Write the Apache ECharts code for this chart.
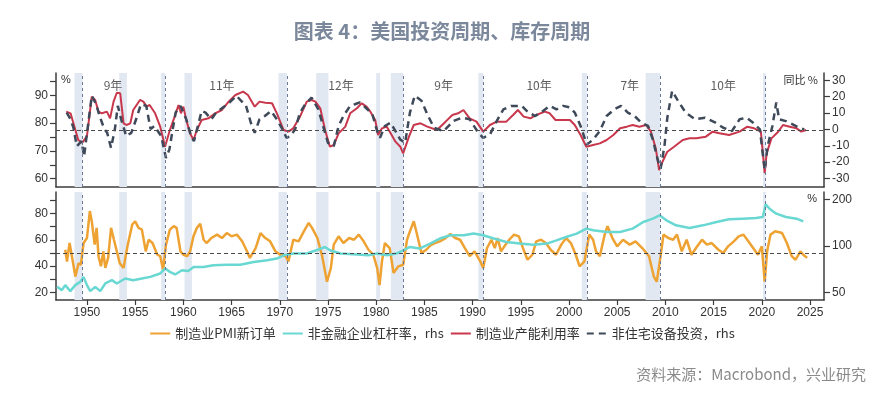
<!DOCTYPE html>
<html><head><meta charset="utf-8">
<script src="https://cdn.jsdelivr.net/npm/echarts@6/dist/echarts.min.js"></script>
<style>html,body{margin:0;padding:0;background:#fff}#c{width:884px;height:398px}</style>
</head><body><div id="c"></div>
<script>
// ---------- data ----------
const xTickYears = [1950,1955,1960,1965,1970,1975,1980,1985,1990,1995,2000,2005,2010,2015,2020,2025];

// 制造业产能利用率 (lhs, top)
const cuYears = [1947.85,1948.3,1948.6,1949.1,1949.5,1950.0,1950.5,1950.85,1951.2,1951.55,1952.07,1952.4,1952.76,1953.1,1953.45,1953.8,1954.1,1954.5,1954.8,1955.5,1955.85,1956.2,1956.5,1957.07,1957.6,1958.1,1958.6,1959.1,1959.5,1959.75,1960.0,1960.3,1960.7,1961.05,1961.4,1961.9,1962.6,1963.3,1964.0,1964.7,1965.4,1966.2,1966.7,1967.4,1967.9,1968.5,1969.2,1969.7,1970.4,1970.9,1971.4,1972.1,
 1972.8,1973.3,1973.7,1974.2,1974.7,1975.2,1975.6,1976.1,1976.8,1977.3,1978.0,1978.5,1979.0,1979.4,1979.9,1980.2,1980.6,1981.1,1981.5,1982.0,1982.5,1982.8,1983.4,1983.9,1984.6,1985.3,
 1986.3,1987.2,1987.9,1988.5,1989.05,1989.7,1990.4,1991.1,1991.8,1992.5,1993.5,1994.2,1994.7,1995.3,1996.0,1996.6,1997.5,1998.0,1998.6,1999.4,2000.1,2000.6,2001.2,2001.8,2002.5,2003.2,2003.9,2004.6,2005.3,2006.0,2006.6,2007.3,2008.0,2008.5,2009.0,2009.35,2009.7,2010.2,2010.9,2011.8,2012.5,2013.2,2014.2,2014.9,2015.6,2016.6,2017.7,2018.5,2019.2,2019.9,2020.3,2020.5,2021.0,2021.7,2022.2,2022.9,2023.6,2024.1,2024.6];
const cuValues = [84.1,83.5,79.9,73.9,72.9,75.3,89.5,88.3,84.1,83.5,84.1,81.7,87.7,90.9,90.7,79.9,79.3,79.9,84.7,88.3,87.7,85.9,86.5,83.5,78.7,71.5,77.5,82.3,86.5,83.5,85.9,81.1,76.3,73.9,77.5,81.1,81.7,83.5,84.7,87.7,90.1,91.3,90.1,85.9,87.7,87.3,87.1,83.5,77.5,76.9,78.1,82.3,
 87.7,88.3,87.7,85.3,77.5,71.5,72.1,76.3,78.7,83.5,85.3,87.1,85.9,84.1,81.1,75.7,78.1,78.7,76.3,73.3,71.5,69.1,75.1,79.3,79.9,78.7,
 77.5,80.5,82.9,83.5,84.7,81.7,80.5,76.9,79.3,80.5,80.5,82.9,84.7,82.3,81.7,82.9,84.1,83.5,81.1,81.1,81.1,79.3,75.7,71.5,72.1,72.7,73.9,75.7,78.1,78.7,79.3,78.7,79.3,76.9,70.9,63.1,66.1,69.7,71.5,73.9,74.5,74.5,75.1,76.9,76.3,75.7,76.9,78.7,78.1,76.9,62.0,69.1,74.5,76.9,79.3,78.7,78.1,76.9,77.5];

// 非住宅设备投资 同比 (rhs, top)
const invYears = [1947.9,1948.3,1948.6,1948.95,1949.45,1949.7,1950.1,1950.5,1950.95,1951.3,1951.8,1952.1,1952.5,1952.9,1953.2,1953.55,1954.07,1954.6,1955.1,1955.6,1956.15,1956.6,1957.0,1957.7,1958.2,1958.55,1958.9,1959.2,1959.7,1960.3,1960.8,1961.1,1961.9,1962.3,1962.9,1963.4,1964.1,1964.8,1965.5,1966.0,1966.5,1967.0,1967.4,1967.9,1968.45,1969.1,1969.7,1970.2,1970.7,1971.1,1971.6,1972.1,
 1972.6,1973.3,1974.0,1974.5,1975.0,1975.6,1976.1,1976.6,1977.3,1977.8,1978.3,1978.9,1979.6,1980.1,1980.4,1980.9,1981.5,1982.0,1982.5,1983.0,1983.5,1984.0,1984.7,1985.3,
 1986.0,1987.0,1988.0,1988.9,1989.7,1990.6,1991.1,1991.8,1992.5,1993.2,1994.0,1995.1,1995.8,1996.5,1997.3,1998.0,1998.7,1999.4,2000.1,2000.6,2001.2,2001.85,2002.5,2003.2,2003.9,2004.7,2005.4,2006.1,2006.8,2007.5,2008.2,2008.7,2009.2,2009.5,2009.9,2010.2,2010.7,2011.2,2012.1,2013.1,2014.1,2015.2,2016.0,2016.9,2017.7,2018.4,2019.1,2019.8,2020.3,2020.6,2021.1,2021.5,2021.8,2022.5,2023.2,2023.9,2024.4];
const invValues = [10.3,6.2,1.0,-10.3,-7.2,-16.5,2.1,20.6,15.4,8.4,0.2,-2.1,-11.3,0.2,14.4,6.2,-4.1,-2.1,6.2,15.4,14.4,0.2,2.1,-4.1,-17.5,-12.3,0.2,10.3,14.4,6.2,-4.1,-7.2,11.3,10.3,6.2,10.3,13.4,16.5,20.6,17.5,14.4,4.1,-2.1,6.2,8.2,11.3,6.2,1.0,-5.1,-4.1,0.2,10.3,
 15,19.5,12.3,2.1,-8.2,-10.3,2.1,8.2,14.4,15.4,16.5,13.4,9.3,-1.0,-5.1,2.1,4.1,-1.0,-6.2,-8.2,10.3,20.6,17.5,9.3,
 1.0,-1.0,5.1,7.2,6.2,-2.1,-5.1,-3.1,5.1,12.3,14.4,14.4,10.3,8.2,11.3,14.4,12.3,14.4,13.4,10.3,2.1,-9.3,-6.2,-1.0,8.2,12.3,14.4,10.3,8.2,4.1,2.1,-6.2,-18.5,-24,-10.3,7.2,23.6,18.5,10.3,6.2,7.2,4.1,1.0,-1.0,6.2,7.2,4.1,0.0,-25,-10.3,2.1,16.5,6.2,5.1,3.1,1.0,0.0];

// 制造业PMI新订单 (lhs, bottom)
const pmiYears = [1947.75,1947.93,1948.2,1948.44,1948.8,1949.13,1949.37,1949.65,1950.0,1950.3,1950.5,1950.8,1951.0,1951.2,1951.45,1951.7,1951.9,1952.2,1952.5,1952.8,1953.1,1953.4,1953.8,1954.2,1954.7,1955.0,1955.35,1955.7,1956.1,1956.4,1956.8,1957.3,1957.6,1957.9,1958.2,1958.6,1959.0,1959.3,1959.7,1960.0,1960.4,1960.7,1961.05,1961.4,1961.75,1962.1,1962.4,1962.9,1963.5,1964.0,1964.5,1965.0,1965.55,1966.1,1966.6,1966.9,1967.5,1968.0,1968.5,1969.0,1969.55,1970.05,1970.6,1970.9,1971.4,1971.95,1972.5,1973.0,1973.35,1973.9,1974.4,1974.9,1975.3,1975.6,1976.1,1976.6,1977.2,1977.7,1978.2,1978.7,1979.2,1979.7,1980.1,1980.35,1980.6,1980.9,1981.4,1981.8,1982.3,1982.8,1983.2,1983.5,1983.9,1984.2,1984.7,1985.2,
 1985.7,1986.1,1986.6,1987.2,1987.7,1988.2,1988.7,1989.2,1989.7,1990.2,1990.8,1991.1,1991.5,1991.95,1992.3,1992.6,1992.95,1993.3,1993.8,1994.3,1994.8,1995.35,1995.7,1996.2,1996.6,1997.1,1997.6,1998.1,1998.65,1999.2,1999.7,2000.2,2000.7,2001.1,2001.6,2002.1,2002.5,2002.8,2003.2,2003.7,2004.0,2004.5,2005.0,2005.6,2006.3,2006.9,2007.6,2008.3,2008.8,2009.1,2009.5,2009.8,2010.3,2010.8,2011.2,2011.7,2012.2,2012.7,2013.3,2013.8,2014.3,2014.8,2015.5,2016.0,2016.5,2017.1,2017.6,2018.1,2018.6,2019.1,2019.6,2020.0,2020.3,2020.55,2020.9,2021.4,2022.1,2022.6,2023.1,2023.5,2024.0,2024.3,2024.7];
const pmiValues = [52.4,43.5,57.5,47.5,32,42.2,41,57.5,61.3,81.8,74.1,56.3,69,47.5,39.8,51.2,38.6,46.2,69,60,51.2,42.2,38.6,55,71.6,74.1,69,67.7,51.2,60,57.5,48.6,47.5,37.3,56.3,67.7,70.4,69,51.2,48.6,47.5,51.2,62.6,69,72.1,60,57.5,61.3,63.9,61.3,65.1,62.6,63.9,58.8,51.2,46.2,53.7,65.1,61.3,58.8,51.2,48.6,47.5,43.5,60,58.8,66.4,72.8,69,61.3,47.5,28.1,38.6,56.3,62.6,57.5,61.3,60,63.9,58.8,52.4,48.6,38.6,25.5,43.5,57.5,53.7,34.8,39.8,41,60,66.4,74.1,65.1,49.9,52.4,
 56.2,57.5,58.8,61.3,64.4,61.3,60,53.7,47.5,51.2,43.5,38.6,53.7,60,53.7,61.3,51.2,55,60,63.9,62.6,51.2,44.8,48.6,58.8,60,57.5,52.4,48.6,56.3,61.3,57.5,48.6,39.8,43.5,63.9,60,51.2,47.5,63.9,70.3,61.3,55,60,56.3,58.8,53.7,47.5,32,28.1,47.5,63.9,61.3,60,63.9,51.2,60,48.6,55,60,56.3,57.5,52.4,49.9,55,58.8,62.6,63.9,58.8,53.7,48.6,55,28.1,51.2,63.9,66.4,65.1,57.5,47.5,44.8,51.2,48.6,46.2];

// 非金融企业杠杆率 (rhs log, bottom)
const levYears = [1946.9,1947.4,1947.75,1948.27,1948.79,1949.3,1949.65,1950.0,1950.34,1950.86,1951.38,1951.9,1952.59,1953.1,1953.97,1954.8,1955.7,1956.56,1957.6,1958.12,1958.6,1959.15,1959.85,1960.5,1961.06,1962.1,1963.1,1964.5,1965.9,1967.3,1968.7,1969.7,1970.4,1971.4,1972.8,1973.8,1974.7,1975.2,1976.3,1978.0,1979.2,1980.1,1981.1,1982.1,1982.8,1983.5,1984.5,1985.6,
 1986.6,1987.7,1989.1,1990.1,1991.1,1992.2,1993.5,1994.9,1996.3,1997.7,1998.7,1999.7,2000.8,2001.8,2002.5,2003.9,2005.3,2006.6,2007.7,2008.7,2009.4,2010.1,2011.1,2012.5,2013.9,2015.3,2016.6,2018.0,2019.4,2020.1,2020.4,2020.8,2021.5,2022.5,2023.6,2024.3];
const levValues = [54.3,51.7,55.7,50.9,55.7,58.5,63,55.7,50.9,54.3,50.9,57.1,60,57.1,61.5,60,61.5,63,66.3,71.4,67.9,65.3,69.6,68.7,73.1,73.1,75,75.5,75.5,78.8,80.8,82.9,87,89.3,89.3,93.8,98.5,93.8,89.3,88,87,89.3,87,89.3,93.8,98.5,96.2,103.6,
 111.7,117.3,117.3,120.3,117.3,111.7,106.1,103.6,102,103.6,108.8,114.4,120.3,129.6,126.4,123.2,123.2,129.6,143,150.4,158,146.7,136.1,130.8,136.1,143,148.9,150.4,151.8,154.1,186,174.6,162.1,154.1,150.4,144.5];

// recessions (shaded) and cycle troughs (dashed)
const recessionStart = [1948.71,1953.35,1957.7,1960.12,1969.87,1973.78,1980.0,1981.52,1990.6,2001.33,2007.95,2020.12];
const recessionEnd   = [1949.54,1954.15,1958.12,1960.89,1970.74,1975.05,1980.41,1982.83,1991.12,2001.85,2009.45,2020.4];
const troughYears = [1949.55,1958.07,1970.74,1982.83,1991.1,2001.85,2009.45,2020.33];
const cycleLabelYears = [1952.7,1964.0,1976.35,1987.0,1996.9,2006.3,2016.0];
const cycleLabels = ['9年','11年','12年','9年','10年','7年','10年'];

const leftTopLabels = [60,70,80,90], leftTopTicks = [60,65,70,75,80,85,90,95];
const rightTopLabels = [-30,-20,-10,0,10,20,30];
const leftBotLabels = [20,40,60,80], leftBotTicks = [20,30,40,50,60,70,80,90];
const rightBotLabels = [50,100,200];

// ---------- chart ----------
const zip = (a,b) => a.map((v,i) => [v,b[i]]);
const X_MIN = 1946.79, X_MAX = 2026.45;
const AX = '#3c3c3c';
const lab = {color:'#333', fontSize:12, fontFamily:'Liberation Sans'};
const areas = recessionStart.map((s,i) => [{xAxis:s},{xAxis:recessionEnd[i]}]);
const vlines = troughYears.map(v => ({xAxis:v}));
const vStyle = {color:'#6a7896', width:1, type:[3,3]};
const hStyle = {color:'#4a4a4a', width:1, type:[4,3]};

function yAx(grid, pos, min, max, labels, ticks, extra){
  return Object.assign({
    type:'value', gridIndex:grid, position:pos, min:min, max:max,
    axisLine:{show:true, onZero:false, lineStyle:{color:AX, width:1.5}},
    axisTick:{show:true, customValues:ticks, length:6, lineStyle:{color:AX, width:1.2}},
    axisLabel:Object.assign({customValues:labels, margin:8}, lab),
    splitLine:{show:false}
  }, extra||{});
}

const option = {
  animation:false,
  backgroundColor:'#fff',
  title:{text:'图表 4：美国投资周期、库存周期', left:'center', top:16,
    textStyle:{fontSize:20, fontWeight:'bold', color:'#7b889b', fontFamily:'Noto Sans CJK SC'}},
  grid:[
    {left:56, right:60, top:73, height:114},
    {left:56, right:60, top:192, height:108}
  ],
  xAxis:[
    {type:'value', gridIndex:0, min:X_MIN, max:X_MAX,
     axisLine:{show:true, onZero:false, lineStyle:{color:AX, width:1.5}},
     axisTick:{show:false}, axisLabel:{show:false}, splitLine:{show:false}},
    {type:'value', gridIndex:1, min:X_MIN, max:X_MAX,
     axisLine:{show:true, onZero:false, lineStyle:{color:AX, width:1.5}},
     axisTick:{show:true, customValues:xTickYears, length:5, lineStyle:{color:AX, width:1.2}},
     axisLabel:Object.assign({customValues:xTickYears, margin:7, formatter:v=>String(Math.round(v))}, lab),
     splitLine:{show:false}}
  ],
  yAxis:[
    yAx(0,'left',57,98,leftTopLabels,leftTopTicks),
    yAx(0,'right',-35.2,34.5,rightTopLabels,rightTopLabels),
    yAx(1,'left',14.2,96.3,leftBotLabels,leftBotTicks),
    yAx(1,'right',44.6,224,rightBotLabels,rightBotLabels,{type:'log', logBase:10})
  ],
  legend:{
    data:['制造业PMI新订单','非金融企业杠杆率，rhs','制造业产能利用率','非住宅设备投资，rhs'],
    left:'center', top:322, itemWidth:20, itemHeight:10, itemGap:6,
    itemStyle:{opacity:0},
    textStyle:{fontSize:13, color:'#333', fontFamily:'Noto Sans CJK SC'}
  },
  graphic:[
    {type:'text', left:61, top:74, style:{text:'%', fontSize:11, fill:'#333', fontFamily:'Liberation Sans'}},
    {type:'text', right:66, top:74, style:{text:'同比 %', fontSize:11, fill:'#333', fontFamily:'Noto Sans CJK SC'}},
    {type:'text', right:67, top:193, style:{text:'%', fontSize:11, fill:'#333', fontFamily:'Liberation Sans'}},
    {type:'text', right:18, top:367, style:{text:'资料来源：Macrobond，兴业研究', fontSize:15, fill:'#8a8a8a', fontFamily:'Noto Sans CJK SC'}}
  ],
  series:[
    {name:'制造业PMI新订单', type:'line', xAxisIndex:1, yAxisIndex:2, symbol:'none', z:3,
     data:zip(pmiYears,pmiValues), lineStyle:{color:'#EEA232', width:2.5}, itemStyle:{color:'#EEA232'},
     markArea:{silent:true, itemStyle:{color:'#e1e8f2'}, data:areas},
     markLine:{silent:true, symbol:'none', label:{show:false}, lineStyle:vStyle,
       data:vlines.concat([{yAxis:50, lineStyle:hStyle}])}},
    {name:'非金融企业杠杆率，rhs', type:'line', xAxisIndex:1, yAxisIndex:3, symbol:'none', z:4,
     data:zip(levYears,levValues), lineStyle:{color:'#6ad8d2', width:2.5}, itemStyle:{color:'#6ad8d2'}},
    {name:'制造业产能利用率', type:'line', xAxisIndex:0, yAxisIndex:0, symbol:'none', z:3,
     data:zip(cuYears,cuValues), lineStyle:{color:'#c8374c', width:2}, itemStyle:{color:'#c8374c'},
     markArea:{silent:true, itemStyle:{color:'#e1e8f2'}, data:areas},
     markLine:{silent:true, symbol:'none', label:{show:false}, lineStyle:vStyle,
       data:vlines.concat([{yAxis:77.5, lineStyle:hStyle}])}},
    {name:'非住宅设备投资，rhs', type:'line', xAxisIndex:0, yAxisIndex:1, symbol:'none', z:4,
     data:zip(invYears,invValues), lineStyle:{color:'#3e4959', width:2.5, type:[7,5]}, itemStyle:{color:'#3e4959'}},
    {name:'cycles', type:'scatter', xAxisIndex:0, yAxisIndex:0, symbolSize:0, silent:true, z:5,
     data:cycleLabelYears.map((y,i)=>({value:[y,93.4], name:cycleLabels[i]})),
     label:{show:true, position:'inside', formatter:p=>p.name, fontSize:12, color:'#333', fontFamily:'Noto Sans CJK SC'}}
  ]
};
const chart = echarts.init(document.getElementById('c'), null, {renderer:'canvas'});
chart.setOption(option);
</script></body></html>
